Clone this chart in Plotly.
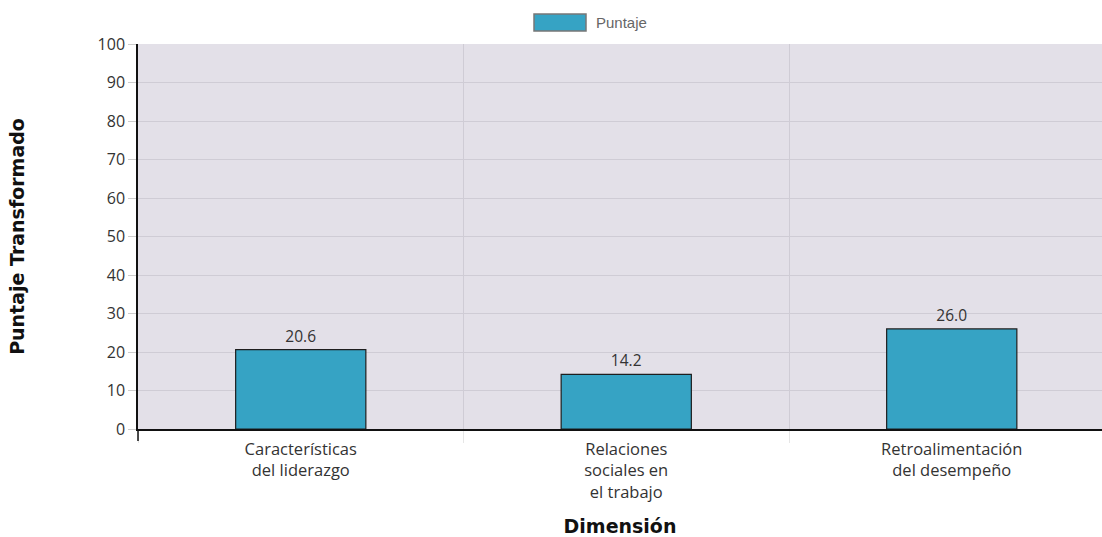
import plotly.graph_objects as go

# Dimension labels (line breaks as shown on the axis) and transformed scores
categories = ["Características<br>del liderazgo",
              "Relaciones<br>sociales en<br>el trabajo",
              "Retroalimentación<br>del desempeño"]
scores = [20.6, 14.2, 26.0]
series_name = "Puntaje"

BAR_COLOR = "#36a3c4"
BG = "#e3e0e8"
GRID = "#cfccd5"

W, H = 1102, 537
ML, MR, MT, MB = 138, 0, 44, 108
PH = H - MT - MB

fig = go.Figure()
fig.add_trace(go.Bar(
    x=categories,
    y=scores,
    name=series_name,
    width=0.4,
    marker=dict(color=BAR_COLOR, line=dict(color="#1e1e1e", width=1.2)),
    text=[f"{v:.1f}" for v in scores],
    textposition="outside",
    textfont=dict(family="Open Sans, Arial, sans-serif", size=15.5, color="#333333"),
    cliponaxis=False,
    showlegend=False,
))

fig.update_layout(
    width=W, height=H,
    margin=dict(l=ML, r=MR, t=MT, b=MB),
    paper_bgcolor="white",
    plot_bgcolor=BG,
    xaxis=dict(
        range=[-0.5, -0.5 + (W - ML - MR) / 325.5],
        tickson="boundaries",
        showgrid=True, gridcolor=GRID, gridwidth=1,
        ticks="outside", ticklen=12, tickcolor="#e6e6e6",
        ticklabelstandoff=4,
        showline=True, linecolor="#111111", linewidth=2,
        tickfont=dict(family="Open Sans, Arial, sans-serif", size=16.5, color="#333333"),
        title=dict(text="<b>Dimensión</b>",
                   font=dict(family="DejaVu Sans, Verdana, sans-serif", size=19, color="#111111"),
                   standoff=22),
        fixedrange=True,
    ),
    yaxis=dict(
        range=[0, 100], dtick=10,
        showgrid=True, gridcolor=GRID, gridwidth=1,
        ticks="outside", ticklen=8, tickcolor="#cccccc",
        showline=True, linecolor="#111111", linewidth=1.5,
        zeroline=False,
        tickfont=dict(family="Open Sans, Arial, sans-serif", size=16, color="#333333"),
        title=dict(text="<b>Puntaje Transformado</b>",
                   font=dict(family="DejaVu Sans, Verdana, sans-serif", size=19, color="#111111"),
                   standoff=68),
    ),
    font=dict(family="Open Sans, Arial, sans-serif"),
)

# Extension of the value axis below the baseline
fig.add_shape(type="line", xref="paper", yref="paper",
              x0=0, x1=0, y0=0, y1=-12 / PH,
              line=dict(color="#111111", width=1.5))

# Legend entry drawn at top centre: wide swatch plus label
fig.add_shape(type="rect", xref="paper", yref="paper",
              x0=(534 - ML) / (W - ML - MR), x1=(586 - ML) / (W - ML - MR),
              y0=1 + (MT - 31) / PH, y1=1 + (MT - 14) / PH,
              fillcolor=BAR_COLOR, line=dict(color="#777777", width=1.5))
fig.add_annotation(xref="paper", yref="paper",
                   x=(594 - ML) / (W - ML - MR), y=1 + (MT - 22.5) / PH,
                   xanchor="left", yanchor="middle", showarrow=False,
                   text=series_name,
                   font=dict(family="Liberation Sans, Arial, sans-serif", size=15, color="#666666"))

fig.write_html("out.html")
